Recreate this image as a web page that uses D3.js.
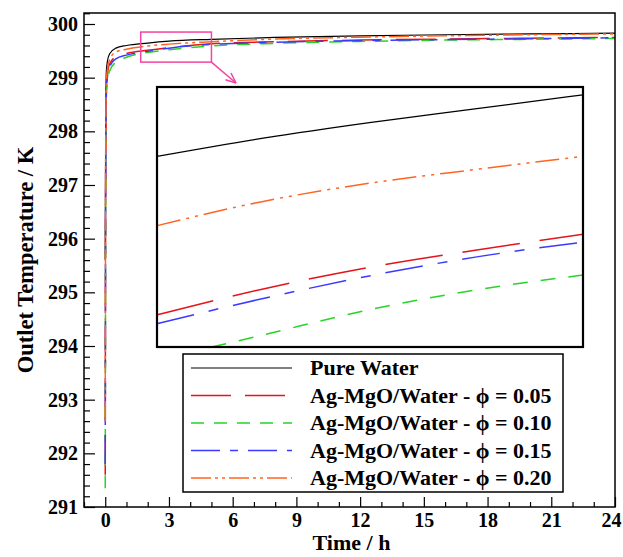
<!DOCTYPE html>
<html>
<head>
<meta charset="utf-8">
<script src="https://cdn.jsdelivr.net/npm/d3@7"></script>
<style>
  html, body { margin: 0; padding: 0; background: #fff; }
  svg { display: block; }
  text { font-family: "Liberation Serif", "Times New Roman", serif; font-weight: bold; fill: #000; }
</style>
</head>
<body>
<svg id="chart" width="623" height="557"></svg>
<script>
// ---------- data ----------
const timeH = [0, 0.02, 0.05, 0.1, 0.2, 0.5, 1, 2, 3, 5, 8, 12, 16, 20, 24];
const pureWater = [295.6, 298.0, 299.10, 299.30, 299.44, 299.55, 299.60, 299.645, 299.68, 299.715, 299.75, 299.78, 299.80, 299.815, 299.83];
const phi005 = [291.6, 297.0, 298.80, 299.05, 299.25, 299.39, 299.45, 299.51, 299.56, 299.63, 299.67, 299.70, 299.72, 299.735, 299.75];
const phi010 = [291.35, 296.5, 298.60, 298.90, 299.12, 299.29, 299.38, 299.47, 299.52, 299.59, 299.64, 299.675, 299.70, 299.715, 299.73];
const phi015 = [291.8, 297.0, 298.75, 299.00, 299.20, 299.35, 299.42, 299.49, 299.55, 299.62, 299.66, 299.69, 299.71, 299.725, 299.745];
const phi020 = [292.6, 297.5, 298.90, 299.15, 299.33, 299.48, 299.53, 299.59, 299.625, 299.67, 299.72, 299.755, 299.78, 299.80, 299.815];

// zoomed inset (magnified window)
const insetTime = [1.67, 2.5, 3.33, 4.17, 5];
const insetPure = [299.720, 299.741, 299.759, 299.775, 299.791];
const insetPhi005 = [299.537, 299.567, 299.592, 299.612, 299.630];
const insetPhi010 = [299.485, 299.514, 299.543, 299.566, 299.583];
const insetPhi015 = [299.527, 299.556, 299.582, 299.604, 299.621];
const insetPhi020 = [299.640, 299.668, 299.689, 299.705, 299.720];

const seriesLabels = ["Pure Water", "Ag-MgO/Water - \u03D5 = 0.05", "Ag-MgO/Water - \u03D5 = 0.10", "Ag-MgO/Water - \u03D5 = 0.15", "Ag-MgO/Water - \u03D5 = 0.20"];
const xTickValues = [0, 3, 6, 9, 12, 15, 18, 21, 24];
const yTickValues = [291, 292, 293, 294, 295, 296, 297, 298, 299, 300];
const zoomWindowTime = [1.67, 5];
const zoomWindowTemp = [299.29, 299.85];
const insetTempRange = [299.50, 299.80];

// ---------- styles ----------
const styles = [
  { color: "#000000", width: 1.2, dash: null, insetDash: null },
  { color: "#e3141b", width: 1.5, dash: "40,14", insetDash: "58,20" },
  { color: "#27d427", width: 1.5, dash: "13,10", insetDash: "15,13" },
  { color: "#3a3aff", width: 1.5, dash: "29,10,8,10", insetDash: "38,15,10,15" },
  { color: "#ff6420", width: 1.5, dash: "20,4,3,4,3,4", insetDash: "24,6,3,6,3,6" }
];
const mainSeries = [pureWater, phi005, phi010, phi015, phi020];
const insetSeries = [insetPure, insetPhi005, insetPhi010, insetPhi015, insetPhi020];

const svg = d3.select("#chart");
const L = 84, R = 615, T = 13, B = 507;

const x = d3.scaleLinear().domain([-1, 24]).range([L, R]);
const y = d3.scaleLinear().domain([291, 300.205]).range([B, T]);

svg.append("defs").append("clipPath").attr("id", "plotClip")
  .append("rect").attr("x", L).attr("y", T).attr("width", R - L).attr("height", B - T);

// ---------- axes ----------
const xMinor = d3.range(-1, 25, 1).filter(v => v % 3 !== 0);
const yMinor = d3.range(291, 300.21, 0.2).filter(v => Math.abs(v - Math.round(v)) > 1e-6);

const xAxisMajor = d3.axisBottom(x).tickValues(xTickValues).tickSize(-10).tickPadding(6).tickFormat(d3.format("d"));
const xAxisMinor = d3.axisBottom(x).tickValues(xMinor).tickSize(-5).tickFormat("");
const yAxisMajor = d3.axisLeft(y).tickValues(yTickValues).tickSize(-11).tickPadding(6).tickFormat(d3.format("d"));
const yAxisMinor = d3.axisLeft(y).tickValues(yMinor).tickSize(-6).tickFormat("");

function styleAxis(g) {
  g.select(".domain").remove();
  g.selectAll("line").attr("stroke", "#000").attr("stroke-width", 1.2);
  g.selectAll("text").style("font-size", "20px").attr("fill", "#000");
}
svg.append("g").attr("transform", `translate(0,${B})`).call(xAxisMinor).call(styleAxis);
const gx = svg.append("g").attr("transform", `translate(0,${B})`).call(xAxisMajor).call(styleAxis);
gx.selectAll(".tick text").filter(d => d === 24).attr("dx", -4);
svg.append("g").attr("transform", `translate(${L},0)`).call(yAxisMinor).call(styleAxis);
svg.append("g").attr("transform", `translate(${L},0)`).call(yAxisMajor).call(styleAxis);

// axis titles
svg.append("text").attr("x", (L + R) / 2 + 2).attr("y", 550).attr("text-anchor", "middle")
  .style("font-size", "22px").text("Time / h");
svg.append("text").attr("transform", `translate(33,${(T + B) / 2}) rotate(-90)`)
  .attr("text-anchor", "middle").style("font-size", "22.5px").text("Outlet Temperature / K");

// ---------- main curves ----------
const line = d3.line().x(d => x(d[0])).y(d => y(d[1])).curve(d3.curveMonotoneX);
const curveG = svg.append("g").attr("clip-path", "url(#plotClip)");
mainSeries.forEach((vals, i) => {
  const s = styles[i];
  curveG.append("path")
    .datum(timeH.map((t, k) => [t, vals[k]]))
    .attr("fill", "none").attr("stroke", s.color).attr("stroke-width", s.width)
    .attr("stroke-dasharray", s.dash).attr("d", line);
});

// frame
svg.append("rect").attr("x", L).attr("y", T).attr("width", R - L).attr("height", B - T)
  .attr("fill", "none").attr("stroke", "#000").attr("stroke-width", 1.5);

// ---------- zoom window + arrow ----------
const zx0 = x(zoomWindowTime[0]), zx1 = x(zoomWindowTime[1]);
const zy0 = y(zoomWindowTemp[1]), zy1 = y(zoomWindowTemp[0]);
const pink = "#f4459f";
svg.append("rect").attr("x", zx0).attr("y", zy0).attr("width", zx1 - zx0).attr("height", zy1 - zy0)
  .attr("fill", "none").attr("stroke", pink).attr("stroke-width", 1.5);
const ax0 = zx1, ay0 = zy1, ax1 = 236, ay1 = 83;
svg.append("line").attr("x1", ax0).attr("y1", ay0).attr("x2", ax1).attr("y2", ay1)
  .attr("stroke", pink).attr("stroke-width", 1.5);
(function () {
  const ang = Math.atan2(ay1 - ay0, ax1 - ax0);
  const len = 11, spread = 0.4;
  [ang + Math.PI - spread, ang + Math.PI + spread].forEach(a => {
    svg.append("line").attr("x1", ax1).attr("y1", ay1)
      .attr("x2", ax1 + len * Math.cos(a)).attr("y2", ay1 + len * Math.sin(a))
      .attr("stroke", pink).attr("stroke-width", 1.5);
  });
})();

// ---------- inset ----------
const IL = 157, IR = 583, IT = 87, IB = 347;
const ix = d3.scaleLinear().domain(zoomWindowTime).range([IL, IR]);
const iy = d3.scaleLinear().domain(insetTempRange).range([IB, IT]);
svg.select("defs").append("clipPath").attr("id", "insetClip")
  .append("rect").attr("x", IL).attr("y", IT).attr("width", IR - IL).attr("height", IB - IT);
svg.append("rect").attr("x", IL).attr("y", IT).attr("width", IR - IL).attr("height", IB - IT)
  .attr("fill", "#fff").attr("stroke", "none");
const iline = d3.line().x(d => ix(d[0])).y(d => iy(d[1])).curve(d3.curveMonotoneX);
const insetG = svg.append("g").attr("clip-path", "url(#insetClip)");
insetSeries.forEach((vals, i) => {
  const s = styles[i];
  insetG.append("path")
    .datum(insetTime.map((t, k) => [t, vals[k]]))
    .attr("fill", "none").attr("stroke", s.color).attr("stroke-width", s.width)
    .attr("stroke-dasharray", s.insetDash).attr("d", iline);
});
svg.append("rect").attr("x", IL).attr("y", IT).attr("width", IR - IL).attr("height", IB - IT)
  .attr("fill", "none").attr("stroke", "#000").attr("stroke-width", 2.2);

// ---------- legend ----------
const LL = 183, LR = 563, LT = 354, LB = 492;
svg.append("rect").attr("x", LL).attr("y", LT).attr("width", LR - LL).attr("height", LB - LT)
  .attr("fill", "#fff").attr("stroke", "#000").attr("stroke-width", 1.5);
const rowY = d3.scalePoint().domain(d3.range(seriesLabels.length)).range([368, 478]);
seriesLabels.forEach((lab, i) => {
  const s = styles[i];
  const yy = rowY(i);
  svg.append("line").attr("x1", 191).attr("x2", 292).attr("y1", yy).attr("y2", yy)
    .attr("stroke", s.color).attr("stroke-width", s.width).attr("stroke-dasharray", s.dash);
  svg.append("text").attr("x", 310).attr("y", yy + 7).style("font-size", "22px").text(lab);
});
</script>
</body>
</html>
